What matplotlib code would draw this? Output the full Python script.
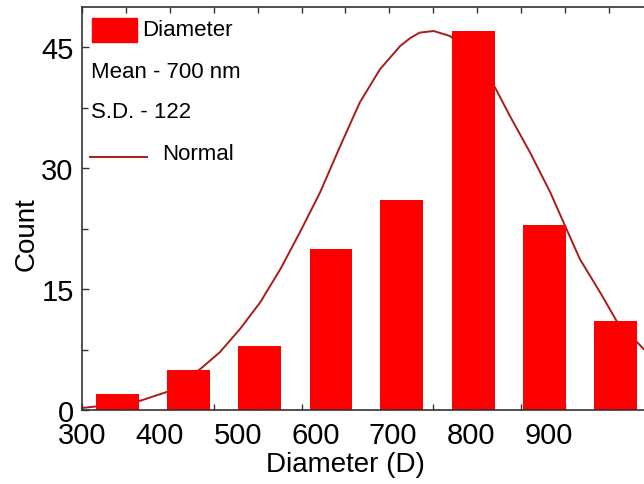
import matplotlib

matplotlib.use("Agg")
import matplotlib.pyplot as plt
import numpy as np
from matplotlib import font_manager
from matplotlib.patches import Rectangle
from matplotlib.lines import Line2D

# 直方图数据（x 为图上标签刻度的单位）
bin_centers = [346, 437, 528, 620, 711, 803, 894, 986]
counts = [2, 5, 8, 20, 26, 47, 23, 11]
bar_width = 55

# 正态曲线（从图上读取的点）
curve_x = [300, 317, 375, 410, 452, 477, 503, 529, 555, 580, 606, 632, 657, 683, 709,
           722, 734, 752, 773, 803, 831, 850, 876, 902, 919, 940, 966, 987, 1022]
curve_y = [0.25, 0.43, 1.15, 2.27, 5.08, 7.15, 10.04, 13.35, 17.48, 22.03, 26.99, 32.76,
           38.14, 42.27, 45.16, 46.15, 46.82, 47.02, 46.40, 44.13, 40.00, 36.48, 31.94,
           26.99, 23.27, 18.72, 14.59, 11.07, 7.56]

x_labels = [300, 400, 500, 600, 700, 800, 900]
y_ticks = [0, 15, 30, 45]

names = {f.name for f in font_manager.fontManager.ttflist}
family = "Liberation Sans Narrow" if "Liberation Sans Narrow" in names else "Liberation Sans"
plt.rcParams["font.family"] = [family, "DejaVu Sans"]

W, H = 644, 485
fig = plt.figure(figsize=(W / 100, H / 100), dpi=100)
ax = fig.add_axes([82 / W, (H - 411) / H, (W - 82) / W, (411 - 8) / H])

ax.plot(curve_x, curve_y, color="#a81c1c", linewidth=1.4, zorder=1.5)
ax.bar(bin_centers, counts, width=bar_width, color="#ff0000", zorder=2)

ax.set_xlim(300, 1022.4)
ax.set_ylim(0, 50)

# 刻度线与标签位置不一致，刻度线用 major，标签用 minor
ax.xaxis.remove_overlapping_locs = False
ax.set_xticks(np.arange(300, 1023, 56.43))
ax.set_xticklabels([])
ax.set_xticks(x_labels, [str(v) for v in x_labels], minor=True)
ax.set_yticks(y_ticks)
ax.set_yticks([7.5, 22.5, 37.5], minor=True)

ax.tick_params(axis="x", which="major", direction="in", length=4, width=1, top=True, color="#333333")
ax.tick_params(axis="x", which="minor", length=0, labelsize=21, pad=8)
ax.tick_params(axis="y", which="both", direction="in", width=1, color="#333333", labelsize=21, pad=6)
ax.tick_params(axis="y", which="major", length=5)
ax.tick_params(axis="y", which="minor", length=4)

for side in ["left", "bottom", "top"]:
    ax.spines[side].set_linewidth(1.2)
    ax.spines[side].set_color("#333333")
ax.spines["right"].set_visible(False)

fig.text(345 / W, 1 - 465 / H, "Diameter (D)", fontsize=20, ha="center", va="center")
fig.text(27 / W, 1 - 234 / H, "Count", fontsize=20, rotation=90, ha="center", va="center")

# 图例（手动摆放）
fig.patches.append(Rectangle((92 / W, 1 - 43 / H), 45 / W, 24 / H,
                             transform=fig.transFigure, color="#ff0000"))
fig.text(142 / W, 1 - 30 / H, "Diameter", fontsize=16, ha="left", va="center")
fig.text(91 / W, 1 - 72 / H, "Mean - 700 nm", fontsize=16, ha="left", va="center")
fig.text(91 / W, 1 - 112 / H, "S.D. - 122", fontsize=16, ha="left", va="center")
fig.lines.append(Line2D([90 / W, 147 / W], [1 - 158 / H, 1 - 158 / H],
                        transform=fig.transFigure, color="#a81c1c", linewidth=1.4))
fig.text(162 / W, 1 - 155 / H, "Normal", fontsize=16, ha="left", va="center")

fig.savefig("out.png", dpi=100)
